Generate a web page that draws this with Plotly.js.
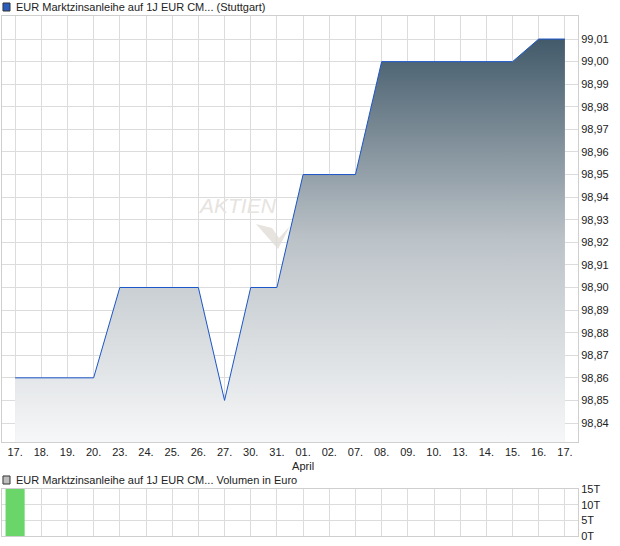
<!DOCTYPE html>
<html>
<head>
<meta charset="utf-8">
<script src="https://cdn.plot.ly/plotly-3.0.1.min.js"></script>
<style>html,body{margin:0;padding:0;background:#fff;}#chart{width:620px;height:546px;}</style>
</head>
<body>
<div id="chart"></div>
<script>
// Data
const dayLabels = ["17.","18.","19.","20.","23.","24.","25.","26.","27.","30.","31.","01.<br>April","02.","07.","08.","09.","10.","13.","14.","15.","16.","17."];
const prices = [98.86,98.86,98.86,98.86,98.90,98.90,98.90,98.90,98.85,98.90,98.90,98.95,98.95,98.95,99.00,99.00,99.00,99.00,99.00,99.00,99.01,99.01];
const volumes = [15,0,0,0,0,0,0,0,0,0,0,0,0,0,0,0,0,0,0,0,0,0];
const priceTicks = [98.84,98.85,98.86,98.87,98.88,98.89,98.90,98.91,98.92,98.93,98.94,98.95,98.96,98.97,98.98,98.99,99.00,99.01];
const volTickVals = [0,5,10,15];
const volTickText = ["0T","5T","10T","15T"];
const titleMain = "EUR Marktzinsanleihe auf 1J EUR CM... (Stuttgart)";
const titleVol = "EUR Marktzinsanleihe auf 1J EUR CM... Volumen in Euro";

const idx = dayLabels.map((_, i) => i);
const FONT = "Liberation Sans, Arial, sans-serif";
const yMin = 98.8316, yMax = 99.0202;

const traces = [
  {
    x: idx, y: prices, type: "scatter", mode: "lines",
    line: {color: "#1a56c8", width: 1},
    fill: "tozeroy",
    fillgradient: {type: "vertical", start: yMin, stop: 99.01,
      colorscale: [[0, "#f6f7f8"], [0.5, "#bcc3c8"], [1, "#425a6a"]]},
    xaxis: "x", yaxis: "y", hoverinfo: "skip"
  },
  {
    x: idx, y: volumes, type: "bar", width: 0.73,
    marker: {color: "#6ad66a", line: {width: 0}},
    xaxis: "x2", yaxis: "y2", hoverinfo: "skip"
  }
];

const gridC = "#dcdcdc";
const frameC = "#cfcfcf";
const tickFont = {family: FONT, size: 11, color: "#222"};

const xCommon = {
  range: [-0.5, 21.5], tickmode: "array", tickvals: idx, ticktext: dayLabels,
  showgrid: true, gridcolor: gridC, gridwidth: 1, zeroline: false,
  showline: true, mirror: true, linecolor: frameC, linewidth: 1,
  ticks: "", tickfont: tickFont, fixedrange: true
};

const layout = {
  width: 620, height: 546,
  margin: {l: 2, r: 42, t: 16, b: 10},
  paper_bgcolor: "#fff", plot_bgcolor: "#fff",
  showlegend: false,
  xaxis: Object.assign({}, xCommon, {domain: [0, 1], anchor: "y"}),
  yaxis: {
    domain: [0.1808, 1], range: [yMin, yMax], side: "right",
    tickmode: "array", tickvals: priceTicks,
    tickformat: ".2f", showgrid: true, gridcolor: gridC, zeroline: false,
    showline: true, mirror: true, linecolor: frameC, ticks: "",
    tickfont: tickFont, anchor: "x", fixedrange: true
  },
  xaxis2: Object.assign({}, xCommon, {domain: [0, 1], anchor: "y2", showticklabels: false}),
  yaxis2: {
    domain: [0, 0.0904], range: [0, 15], side: "right",
    tickmode: "array", tickvals: volTickVals, ticktext: volTickText,
    showgrid: true, gridcolor: gridC, zeroline: false,
    showline: true, mirror: true, linecolor: frameC, ticks: "",
    tickfont: tickFont, anchor: "x2", fixedrange: true
  },
  separators: ",.",
  bargap: 0.27,
  annotations: [
    {text: titleMain, xref: "paper", yref: "paper", x: 0.0208, y: 1.0173,
     xanchor: "left", yanchor: "middle", showarrow: false,
     font: {family: FONT, size: 11, color: "#222"}},
    {text: titleVol, xref: "paper", yref: "paper", x: 0.0208, y: 0.1077,
     xanchor: "left", yanchor: "middle", showarrow: false,
     font: {family: FONT, size: 11, color: "#222"}},
    {text: "<i>AKTIEN</i>", xref: "paper", yref: "paper", x: 0.408, y: 0.6365,
     xanchor: "center", yanchor: "middle", showarrow: false,
     font: {family: "Liberation Sans, Arial, sans-serif", size: 21, color: "#e7e3df"}}
  ],
  shapes: [
    {type: "rect", xref: "paper", yref: "paper", x0: 0.0017, x1: 0.0139, y0: 1.0096, y1: 1.025,
     fillcolor: "#2a5dbd", line: {color: "#333", width: 1}},
    {type: "rect", xref: "paper", yref: "paper", x0: 0.0017, x1: 0.0139, y0: 0.1, y1: 0.1154,
     fillcolor: "#bdbdbd", line: {color: "#333", width: 1}},
    {type: "path", xref: "paper", yref: "paper", layer: "below",
     path: "M0.4410,0.6 L0.46875,0.5923 L0.4809,0.5731 L0.5,0.5962 L0.4792,0.5519 Z",
     fillcolor: "#e7e3df", line: {width: 0}}
  ]
};

Plotly.newPlot("chart", traces, layout, {displayModeBar: false, staticPlot: true});
</script>
</body>
</html>
